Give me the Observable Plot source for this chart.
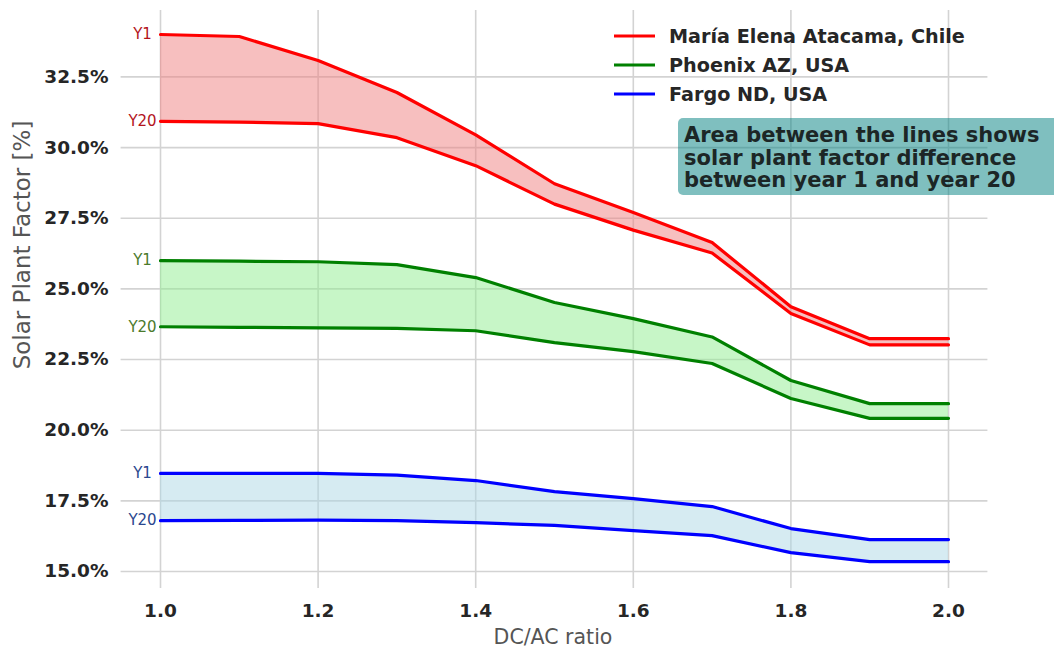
<!DOCTYPE html>
<html>
<head>
<meta charset="utf-8">
<script src="https://cdn.jsdelivr.net/npm/d3@7"></script>
<script src="https://cdn.jsdelivr.net/npm/@observablehq/plot@0.6"></script>
<style>
  body { margin: 0; background: #fff; }
  #chart svg { display: block; overflow: hidden; }
</style>
</head>
<body>
<div id="chart"></div>
<script>
// DC/AC ratio sampled at 0.1 steps
const dcac = [1.0, 1.1, 1.2, 1.3, 1.4, 1.5, 1.6, 1.7, 1.8, 1.9, 2.0];

const siteNames = ["María Elena Atacama, Chile", "Phoenix AZ, USA", "Fargo ND, USA"];
const lineColors = ["#ff0000", "#008000", "#0000ff"];
const fillColors = ["lightcoral", "lightgreen", "lightblue"];
const labelColors = ["#b3141c", "#4b7a2c", "#2a478e"];

// Solar plant factor [%] in year 1 and year 20
const atacamaY1  = [34.0, 33.93, 33.08, 31.95, 30.45, 28.72, 27.7, 26.64, 24.37, 23.24, 23.24];
const atacamaY20 = [30.93, 30.9, 30.85, 30.35, 29.36, 28.0, 27.08, 26.27, 24.13, 23.02, 23.02];
const phoenixY1  = [26.0, 25.98, 25.96, 25.86, 25.4, 24.52, 23.95, 23.3, 21.76, 20.94, 20.94];
const phoenixY20 = [23.66, 23.64, 23.62, 23.6, 23.52, 23.1, 22.78, 22.36, 21.12, 20.42, 20.42];
const fargoY1    = [18.47, 18.47, 18.47, 18.41, 18.22, 17.83, 17.58, 17.3, 16.52, 16.13, 16.13];
const fargoY20   = [16.8, 16.81, 16.82, 16.8, 16.73, 16.63, 16.45, 16.27, 15.67, 15.35, 15.35];

const xTicks = [1.0, 1.2, 1.4, 1.6, 1.8, 2.0];
const yTicks = [15.0, 17.5, 20.0, 22.5, 25.0, 27.5, 30.0, 32.5];

const yearLabels = ["Y1", "Y20"];
const annotationLines = [
  "Area between the lines shows",
  "solar plant factor difference",
  "between year 1 and year 20"
];

const seriesY1 = [atacamaY1, phoenixY1, fargoY1];
const seriesY20 = [atacamaY20, phoenixY20, fargoY20];

const sites = siteNames.map((name, s) => ({
  name,
  line: lineColors[s],
  fill: fillColors[s],
  label: labelColors[s],
  rows: dcac.map((x, i) => ({x, y1: seriesY1[s][i], y20: seriesY20[s][i]}))
}));

const W = 1054, H = 651;
const font = "DejaVu Sans, Liberation Sans, sans-serif";

const marks = [
  Plot.gridX(xTicks, {stroke: "#d3d3d3", strokeOpacity: 1, strokeWidth: 1.6}),
  Plot.gridY(yTicks, {stroke: "#d3d3d3", strokeOpacity: 1, strokeWidth: 1.6})
];

for (const site of sites) {
  marks.push(
    Plot.areaY(site.rows, {x: "x", y1: "y20", y2: "y1", fill: site.fill, fillOpacity: 0.5}),
    Plot.lineY(site.rows, {x: "x", y: "y1", stroke: site.line, strokeWidth: 3.2}),
    Plot.lineY(site.rows, {x: "x", y: "y20", stroke: site.line, strokeWidth: 3.2}),
    Plot.text([site.rows[0]], {
      x: "x", y: "y1", text: () => yearLabels[0], dx: -18,
      fill: site.label, fontSize: 15, textAnchor: "middle"
    }),
    Plot.text([site.rows[0]], {
      x: "x", y: "y20", text: () => yearLabels[1], dx: -18,
      fill: site.label, fontSize: 15, textAnchor: "middle"
    })
  );
}

marks.push(
  Plot.axisX(xTicks, {
    tickSize: 0, tickPadding: 15, tickFormat: d3.format(".1f"),
    fontSize: 18.5, fontWeight: "bold", fill: "#262626", label: null
  }),
  Plot.axisY(yTicks, {
    tickSize: 0, tickPadding: 12.6, tickFormat: d => d.toFixed(1) + "%",
    fontSize: 18.5, fontWeight: "bold", fill: "#262626", label: null
  })
);

const chart = Plot.plot({
  width: W,
  height: H,
  marginLeft: 120.6,
  marginRight: 66.6,
  marginTop: 10,
  marginBottom: 63,
  style: {fontFamily: font, background: "#fff"},
  x: {domain: [0.95, 2.05]},
  y: {domain: [14.4, 34.85]},
  marks
});

document.getElementById("chart").append(chart);

const svg = d3.select(chart);

// axis titles
svg.append("text")
  .attr("x", 553).attr("y", 637).attr("dy", "0.35em")
  .attr("text-anchor", "middle")
  .attr("font-size", 20.5).attr("fill", "#555")
  .text("DC/AC ratio");

svg.append("text")
  .attr("transform", "translate(22,245) rotate(-90)")
  .attr("dy", "0.35em")
  .attr("text-anchor", "middle")
  .attr("font-size", 23).attr("fill", "#555")
  .text("Solar Plant Factor [%]");

// legend
const legend = svg.append("g").attr("text-anchor", "start");
sites.forEach((site, i) => {
  const y = 36 + i * 29;
  legend.append("line")
    .attr("x1", 614).attr("x2", 655).attr("y1", y).attr("y2", y)
    .attr("stroke", site.line).attr("stroke-width", 3.2);
  legend.append("text")
    .attr("x", 669).attr("y", y).attr("dy", "0.35em")
    .attr("text-anchor", "start")
    .attr("font-size", 19.2).attr("font-weight", "bold").attr("fill", "#262626")
    .text(site.name);
});

// annotation box
const note = svg.append("g").attr("text-anchor", "start");
note.append("rect")
  .attr("x", 678).attr("y", 118).attr("width", 400).attr("height", 77)
  .attr("rx", 5).attr("fill", "teal").attr("fill-opacity", 0.5);
annotationLines.forEach((t, i) => {
  note.append("text")
    .attr("x", 684).attr("y", 135 + i * 22.5).attr("dy", "0.35em")
    .attr("text-anchor", "start")
    .attr("font-size", 21).attr("font-weight", "bold").attr("fill", "#1c2626")
    .text(t);
});
</script>
</body>
</html>
